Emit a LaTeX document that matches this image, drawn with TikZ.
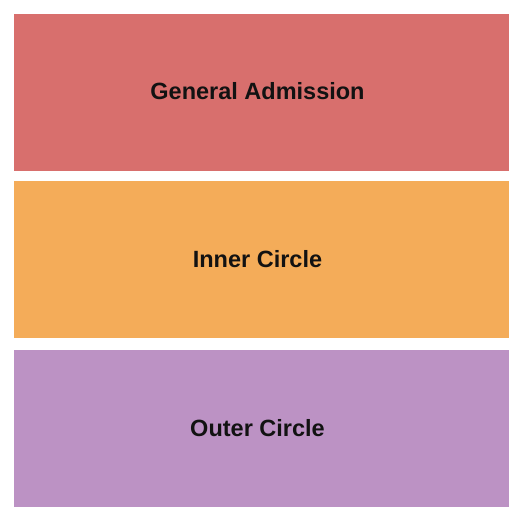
\documentclass[tikz,border=0pt]{standalone}
\usepackage{fontspec}
\setmainfont{Liberation Sans}
\usetikzlibrary{positioning}
\definecolor{gaRed}{HTML}{D86F6D}
\definecolor{innerOrange}{HTML}{F4AC59}
\definecolor{outerPurple}{HTML}{BC92C4}

\begin{document}
\begin{tikzpicture}[x=1pt, y=-1pt, every node/.style={inner sep=0pt, outer sep=0pt},
        block/.style={minimum width=495pt, minimum height=157pt, anchor=north west},
        blocktext/.style={font=\fontsize{23.5}{28}\selectfont\bfseries, text=black!93}]

            \useasboundingbox (0,0) rectangle (525,525);

            \node[block, fill=gaRed] (GA) at (14,14) {};
            \node[block, fill=innerOrange] (IC) at (14,181) {};
            \node[block, fill=outerPurple] (OC) at (14,350) {};

            \node[blocktext, xshift=-4pt, yshift=1.5pt] (GAtext) at (GA.center) {General Admission};
            \node[blocktext, xshift=-4pt] (ICtext) at (IC.center) {Inner Circle};
            \node[blocktext, xshift=-4pt] (OCtext) at (OC.center) {Outer Circle};
        \end{tikzpicture}
\end{document}
